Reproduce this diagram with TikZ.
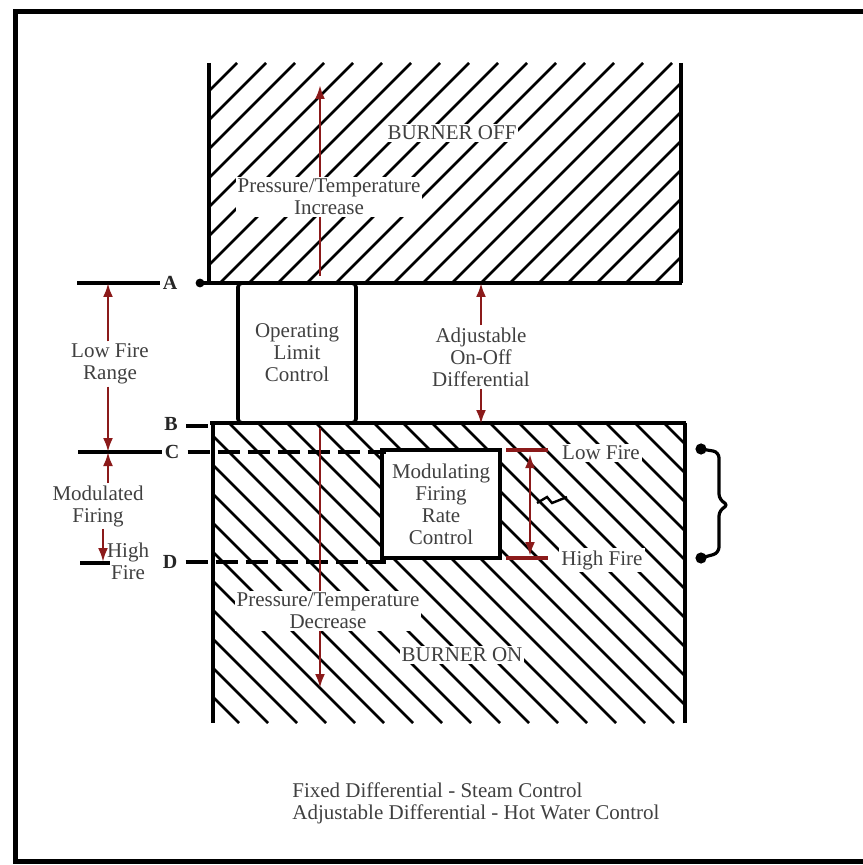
\documentclass[tikz,border=0pt]{standalone}
\usepackage{fontspec}
\setmainfont{Liberation Serif}
\usepackage{tikz}
\definecolor{firered}{RGB}{139,26,26}
\definecolor{inkgray}{RGB}{64,64,64}
\usetikzlibrary{arrows, arrows.meta, positioning}

\begin{document}
\begin{tikzpicture}[x=0.5pt, y=-0.5pt,
			>={Latex[length=7pt,width=5pt]},   % arrow tips
			lbl/.style={font=\fontsize{10.5}{11}\selectfont, text=inkgray, align=center, inner sep=1pt},
			gap/.style={lbl, fill=white},
			letter/.style={font=\fontsize{10}{11}\selectfont\bfseries, text=black!85, inner sep=1pt},
			hatch/.style={line width=1.3pt},
			wall/.style={line width=1.8pt},
			level/.style={line width=2pt},
			dashlevel/.style={line width=2pt, dash pattern=on 11pt off 4pt},
			redarrow/.style={->, firered, line width=1.3pt},
			firetick/.style={firered, line width=2pt}]
			% page and frame
			\useasboundingbox (0,0) rectangle (862,865);
			\draw[line width=2.5pt] (880,12) -- (15,12) -- (15,861) -- (880,861);
			% hatching burner off
			\begin{scope}
				\clip (209,63) rectangle (681,283);
				\foreach \x in {-215,-186,...,690} \draw[hatch] (\x,283) -- ++(220,-220);
			\end{scope}
			% hatching burner on
			\begin{scope}
				\clip (213,423) rectangle (685,723);
				\foreach \x in {-90,-61,...,690} \draw[hatch] (\x,423) -- ++(300,300);
			\end{scope}
			% walls
			\draw[wall] (209,63) -- (209,283);
			\draw[wall] (681,63) -- (681,283);
			\draw[wall] (213,423) -- (213,723);
			\draw[wall] (685,423) -- (685,723);
			% levels A to D
			\node[letter] (labA) at (170,283) {A};
			\node[letter] (labB) at (171,424) {B};
			\node[letter] (labC) at (172,452) {C};
			\node[letter] (labD) at (170,562) {D};
			\draw[level] (200,283) -- (682,283);
			\fill (200,283) circle (2.2pt);
			\draw[level] (77,283) -- (labA.west);
			\draw[level] (210,423) -- (686,423);
			\draw[dashlevel] ([xshift=3pt,yshift=-1pt]labB.east) -- (212,426);
			\draw[level] (78,452) -- (labC.west);
			\draw[level] (80,563) -- (110,563);
			% controls
			\node[lbl, draw=black, line width=1.8pt, rounded corners=2pt, minimum width=59pt, minimum height=70pt] (olc) at (297,353) {Operating\\Limit\\Control};
			\node[lbl, draw=black, fill=white, line width=2pt, minimum width=59pt, minimum height=54pt] (mfrc) at (441,504) {Modulating\\Firing\\Rate\\Control};
			\draw[dashlevel] ([xshift=3pt]labC.east) -- ([xshift=3pt]labC.east -| mfrc.west);
			\draw[dashlevel] ([xshift=3pt]labD.east) -- ([xshift=3pt]labD.east -| mfrc.west);
			% low / high fire marks
			\draw[firetick] ([xshift=2pt,yshift=-1pt]mfrc.north east) -- ++(42,0);
			\draw[firetick] ([xshift=2pt,yshift=1pt]mfrc.south east) -- ++(42,0);
			\coordinate (rateTop) at (530,454);
			\coordinate (rateBot) at (530,556);
			\draw[redarrow, <->] (rateTop) -- (rateBot);
			\draw[line width=1.2pt] (537,503) -- (547,497) -- (552,503) -- (567,497);
			\node[gap] (lowfire) at (601,453) {Low Fire};
			\node[gap] (highfire) at (602,560) {High Fire};
			% brace
			\draw[line width=1.6pt, rounded corners=3pt] (701,449) -- (719,452) -- (719,500) -- (729,505) -- (719,510) -- (719,553) -- (701,558);
			\fill (701,449) circle (2.8pt);
			\fill (701,558) circle (2.8pt);
			% differential
			\node[lbl] (adj) at (481,357) {Adjustable\\On-Off\\Differential};
			\draw[redarrow] (adj.north) -- (adj.north |- labA);
			\draw[redarrow] (adj.south) -- (adj.south |- labB);
			% pressure arrows
			\coordinate (incBase) at (320,276);
			\coordinate (incTip) at (320,85);
			\draw[redarrow] (incBase) -- (incTip);
			\node[gap] (pti) at (329,197) {Pressure/Temperature\\Increase};
			\node[gap] (boff) at (452,133) {BURNER OFF};
			\coordinate (decBase) at (320,428);
			\coordinate (decTip) at (320,688);
			\draw[redarrow] (decBase) -- (decTip);
			\node[gap] (ptd) at (328,611) {Pressure/Temperature\\Decrease};
			\node[gap] (bon) at (462,655) {BURNER ON};
			% left scale
			\coordinate (lfx) at (108,0);
			\coordinate (hfx) at (103,0);
			\node[lbl] (lfr) at (110,364) {Low Fire\\Range};
			\draw[redarrow] (lfr.north -| lfx) -- (lfx |- labA);
			\draw[redarrow] (lfr.south -| lfx) -- (lfx |- labC);
			\node[lbl] (mfire) at (98,506) {Modulated\\Firing};
			\draw[redarrow] (mfire.north -| lfx) -- (lfx |- labC);
			\draw[redarrow] (mfire.south -| hfx) -- (hfx |- labD);
			\node[lbl] (hfire) at (128,561) {High\\Fire};
			% note
			\node[lbl, align=left, anchor=west] (note) at (290,803) {Fixed Differential - Steam Control\\Adjustable Differential - Hot Water Control};
		\end{tikzpicture}
\end{document}
